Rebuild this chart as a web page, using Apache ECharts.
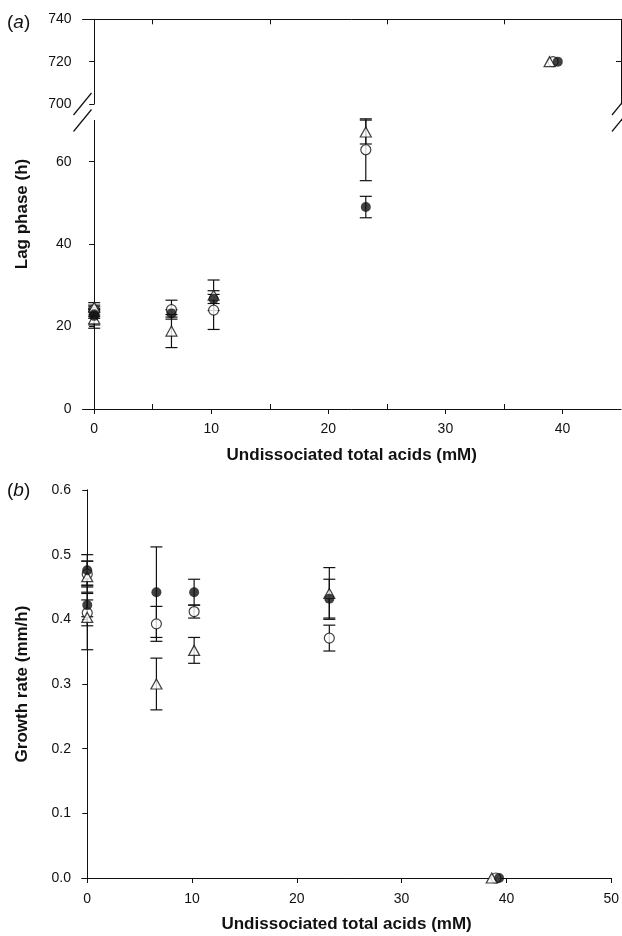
<!DOCTYPE html>
<html>
<head>
<meta charset="utf-8">
<script src="https://cdn.jsdelivr.net/npm/echarts@6/dist/echarts.min.js"></script>
<style>
html, body { margin: 0; padding: 0; background: #fff; }
#chart { width: 622px; height: 936px; }
</style>
</head>
<body>
<div id="chart"></div>
<script>
// (a) lag phase (h) against undissociated total acids (mM)
const acidFilledA = [0, 0, 6.6, 10.2, 23.2, 39.6];
const lagFilled = [22.6, 23.0, 23.2, 26.7, 49.0, 720];
const lagFilledErr = [2.2, 1.0, 0.9, 1.1, 2.6, 0];
const acidOpenA = [0, 0, 6.6, 10.2, 23.2, 39.2];
const lagOpen = [24.0, 23.4, 24.1, 24.0, 62.9, 720];
const lagOpenErr = [1.2, 1.0, 2.3, 4.7, 7.5, 0];
const acidTriA = [0, 0, 6.6, 10.2, 23.2, 38.9];
const lagTri = [24.7, 21.9, 18.9, 27.6, 67.2, 720];
const lagTriErr = [1.1, 2.3, 4.0, 3.7, 2.9, 0];

// (b) growth rate (mm/h)
const acidFilledB = [0, 0, 6.6, 10.2, 23.1, 39.3];
const rateFilled = [0.476, 0.422, 0.442, 0.442, 0.432, 0];
const rateFilledErr = [0.024, 0.018, 0.07, 0.02, 0.03, 0];
const acidOpenB = [0, 0, 6.6, 10.2, 23.1, 39.0];
const rateOpen = [0.47, 0.41, 0.393, 0.412, 0.371, 0];
const rateOpenErr = [0.02, 0.02, 0.027, 0.01, 0.02, 0];
const acidTriB = [0, 0, 6.6, 10.2, 23.1, 38.6];
const rateTri = [0.466, 0.403, 0.30, 0.352, 0.44, 0];
const rateTriErr = [0.024, 0.05, 0.04, 0.02, 0.04, 0];

// tick labels
const xTicksA = [0, 10, 20, 30, 40];
const xMinorA = [5, 15, 25, 35];
const yTicksLow = [0, 20, 40, 60];
const yTicksHigh = [700, 720, 740];
const xTicksB = [0, 10, 20, 30, 40, 50];
const yTicksB = [0, 0.1, 0.2, 0.3, 0.4, 0.5, 0.6];

const BREAK = 700; // values from here go to the upper strip of (a)
const INK = '#111';
const FONT = 'Liberation Sans, Arial, sans-serif';

const upper = v => v >= BREAK;
const lower = v => v < BREAK;
const all = () => true;

function points(xs, ys, keep) {
  const out = [];
  xs.forEach((x, i) => { if (keep(ys[i])) out.push([x, ys[i]]); });
  return out;
}
function bars(xs, ys, es, keep) {
  const out = [];
  xs.forEach((x, i) => { if (keep(ys[i]) && es[i] > 0) out.push([x, ys[i] - es[i], ys[i] + es[i]]); });
  return out;
}

function renderErr(params, api) {
  const x = api.value(0);
  const top = api.coord([x, api.value(2)]);
  const bot = api.coord([x, api.value(1)]);
  const hw = 6;
  const st = { stroke: INK, lineWidth: 1.2 };
  return {
    type: 'group',
    children: [
      { type: 'line', shape: { x1: top[0], y1: top[1], x2: bot[0], y2: bot[1] }, style: st },
      { type: 'line', shape: { x1: top[0] - hw, y1: top[1], x2: top[0] + hw, y2: top[1] }, style: st },
      { type: 'line', shape: { x1: bot[0] - hw, y1: bot[1], x2: bot[0] + hw, y2: bot[1] }, style: st }
    ]
  };
}

const styles = {
  filled: { symbol: 'circle', symbolSize: 10, itemStyle: { color: INK }, z: 5 },
  open: { symbol: 'circle', symbolSize: 10, itemStyle: { color: '#fff', borderColor: INK, borderWidth: 1.2 }, z: 3 },
  tri: { symbol: 'triangle', symbolSize: [11, 10], itemStyle: { color: '#fff', borderColor: INK, borderWidth: 1.2 }, z: 4 }
};

const series = [];
function add(kind, xs, ys, es, xi, yi, keep) {
  const eb = bars(xs, ys, es, keep);
  if (eb.length) {
    series.push({
      type: 'custom', xAxisIndex: xi, yAxisIndex: yi, renderItem: renderErr,
      encode: { x: 0, y: [1, 2] }, data: eb, z: 2, silent: true
    });
  }
  const s = styles[kind];
  series.push({
    type: 'scatter', xAxisIndex: xi, yAxisIndex: yi, data: points(xs, ys, keep),
    symbol: s.symbol, symbolSize: s.symbolSize, itemStyle: s.itemStyle, z: s.z, silent: true
  });
}

// panel (a), upper strip and lower part
[[0, 0, upper], [1, 2, lower]].forEach(([xi, yi, keep]) => {
  add('open', acidOpenA, lagOpen, lagOpenErr, xi, yi, keep);
  add('tri', acidTriA, lagTri, lagTriErr, xi, yi, keep);
  add('filled', acidFilledA, lagFilled, lagFilledErr, xi, yi, keep);
});
// panel (b)
add('open', acidOpenB, rateOpen, rateOpenErr, 3, 4, all);
add('tri', acidTriB, rateTri, rateTriErr, 3, 4, all);
add('filled', acidFilledB, rateFilled, rateFilledErr, 3, 4, all);

const axLine = { show: true, lineStyle: { color: INK, width: 1 } };
const noLabel = { show: false };
const label = (vals, extra) => Object.assign({ customValues: vals, color: INK, fontSize: 14, fontFamily: FONT }, extra || {});
const tickOut = vals => ({ show: true, customValues: vals, length: 5, lineStyle: { color: INK } });
const tickIn = vals => ({ show: true, inside: true, customValues: vals, length: 5, lineStyle: { color: INK } });
const nameStyle = { fontSize: 17, fontWeight: 'bold', color: INK, fontFamily: FONT };

function xAx(grid, pos, min, max, o) {
  return Object.assign({
    type: 'value', gridIndex: grid, position: pos, min: min, max: max,
    axisLine: axLine, axisTick: { show: false }, axisLabel: noLabel, splitLine: { show: false }
  }, o || {});
}
function yAx(grid, pos, min, max, o) {
  return Object.assign({
    type: 'value', gridIndex: grid, position: pos, min: min, max: max,
    axisLine: axLine, axisTick: { show: false }, axisLabel: noLabel, splitLine: { show: false }
  }, o || {});
}

const option = {
  backgroundColor: '#fff',
  animation: false,
  grid: [
    { left: 82.5, right: 1, top: 19.3, height: 84.7 },
    { left: 82.5, right: 1, top: 120.5, height: 288.5 },
    { left: 82, right: 1, top: 490, height: 388 }
  ],
  xAxis: [
    xAx(0, 'top', -1, 45, { axisTick: tickIn(xMinorA) }),
    xAx(1, 'bottom', -1, 45, {
      axisTick: tickOut(xTicksA), axisLabel: label(xTicksA, { margin: 13 }),
      name: 'Undissociated total acids (mM)', nameLocation: 'middle', nameGap: 38, nameTextStyle: nameStyle
    }),
    xAx(1, 'bottom', -1, 45, { axisLine: { show: false }, axisTick: tickIn(xMinorA) }),
    xAx(2, 'bottom', -0.5, 50, {
      axisTick: tickOut(xTicksB), axisLabel: label(xTicksB, { margin: 14 }),
      name: 'Undissociated total acids (mM)', nameLocation: 'middle', nameGap: 38, nameTextStyle: nameStyle
    }),
    xAx(2, 'top', -0.5, 50)
  ],
  yAxis: [
    yAx(0, 'left', 700, 740, { axisTick: tickOut(yTicksHigh), axisLabel: label(yTicksHigh, { margin: 11 }) }),
    yAx(0, 'right', 700, 740, { axisTick: tickIn([720]) }),
    yAx(1, 'left', 0, 70, { axisTick: tickOut(yTicksLow), axisLabel: label(yTicksLow, { margin: 11 }) }),
    yAx(1, 'right', 0, 70, { axisTick: tickIn([20, 40, 60]) }),
    yAx(2, 'left', 0, 0.6, {
      axisTick: tickOut(yTicksB),
      axisLabel: label(yTicksB, { margin: 11, formatter: v => Number(v).toFixed(1) })
    }),
    yAx(2, 'right', 0, 0.6)
  ],
  graphic: [
    // axis break marks
    ...[[82.5, 104], [82.5, 120.5], [621, 104], [621, 120.5]].map(([cx, cy]) => ({
      type: 'line', silent: true,
      shape: { x1: cx - 9, y1: cy + 11, x2: cx + 9, y2: cy - 11 },
      style: { stroke: INK, lineWidth: 1.2 }
    })),
    {
      type: 'text', x: 22, y: 214, rotation: Math.PI / 2, silent: true,
      style: { text: 'Lag phase (h)', fontSize: 17, fontWeight: 'bold', fontFamily: FONT, fill: INK, align: 'center', verticalAlign: 'middle' }
    },
    {
      type: 'text', x: 22, y: 684, rotation: Math.PI / 2, silent: true,
      style: { text: 'Growth rate (mm/h)', fontSize: 17, fontWeight: 'bold', fontFamily: FONT, fill: INK, align: 'center', verticalAlign: 'middle' }
    },
    {
      type: 'text', x: 7, y: 23, silent: true,
      style: { text: '({i|a})', fontSize: 19, fontFamily: FONT, fill: INK, align: 'left', verticalAlign: 'middle',
        rich: { i: { fontStyle: 'italic', fontSize: 19, fontFamily: FONT, color: INK } } }
    },
    {
      type: 'text', x: 7, y: 491, silent: true,
      style: { text: '({i|b})', fontSize: 19, fontFamily: FONT, fill: INK, align: 'left', verticalAlign: 'middle',
        rich: { i: { fontStyle: 'italic', fontSize: 19, fontFamily: FONT, color: INK } } }
    }
  ],
  series: series
};

const chart = echarts.init(document.getElementById('chart'), null, { renderer: 'canvas' });
chart.setOption(option);
</script>
</body>
</html>
